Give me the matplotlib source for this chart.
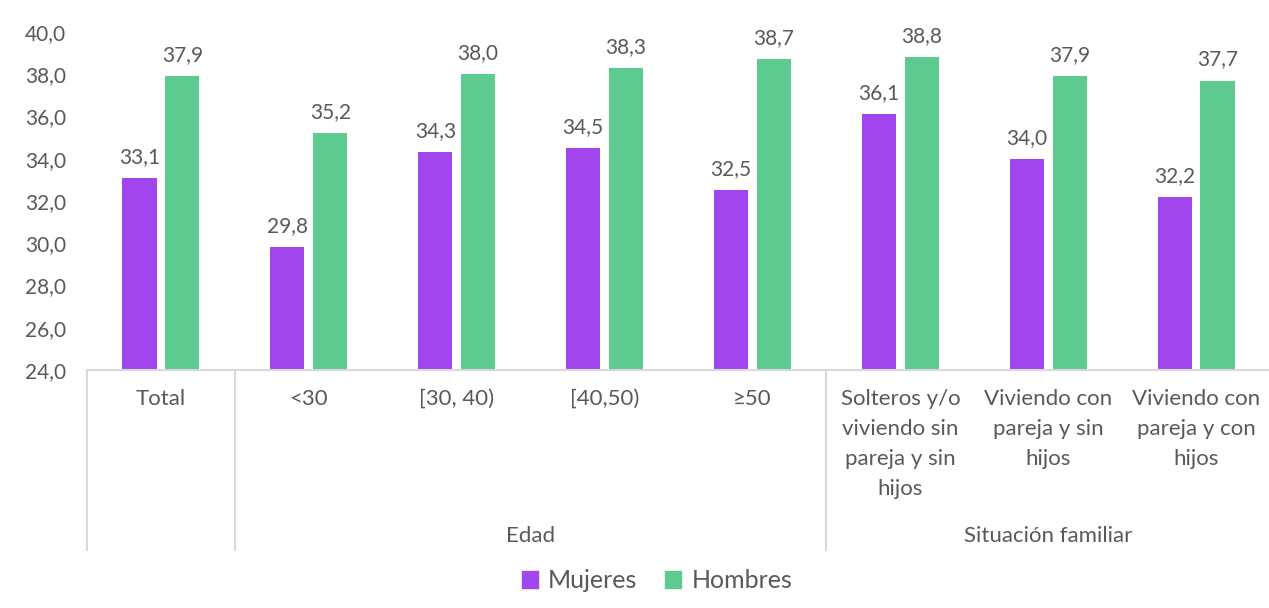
import matplotlib.pyplot as plt
import matplotlib.transforms as mtransforms
from matplotlib.patches import Patch

# --- data ---
categories = ['Total', '<30', '[30, 40)', '[40,50)', '≥50',
              'Solteros y/o\nviviendo sin\npareja y sin\nhijos',
              'Viviendo con\npareja y sin\nhijos',
              'Viviendo con\npareja y con\nhijos']
mujeres = [33.1, 29.8, 34.3, 34.5, 32.5, 36.1, 34.0, 32.2]
hombres = [37.9, 35.2, 38.0, 38.3, 38.7, 38.8, 37.9, 37.7]
groups = [('Edad', 1, 4), ('Situación familiar', 5, 7)]
separators = [-0.5, 0.5, 4.5]
y_ticks = [24, 26, 28, 30, 32, 34, 36, 38, 40]

purple = '#A145EC'
green = '#5DCA8F'
txt = '#595959'
line_c = '#D9D9D9'

plt.rcParams['font.family'] = ['Lato', 'DejaVu Sans']

W, H = 1269, 608
fig = plt.figure(figsize=(W / 100, H / 100), dpi=100)
ax = fig.add_axes([87 / W, (H - 370) / H, (1270 - 87) / W, (370 - 32) / H])

x = list(range(len(categories)))
bw = 0.23
off = 0.145
ax.bar([i - off for i in x], mujeres, width=bw, color=purple, bottom=0)
ax.bar([i + off for i in x], hombres, width=bw, color=green, bottom=0)

for i in x:
    ax.annotate(f'{mujeres[i]:.1f}'.replace('.', ','), (i - off, mujeres[i]),
                xytext=(0, 8), textcoords='offset points', ha='center', va='bottom',
                fontsize=15, color=txt)
    ax.annotate(f'{hombres[i]:.1f}'.replace('.', ','), (i + off, hombres[i]),
                xytext=(0, 8), textcoords='offset points', ha='center', va='bottom',
                fontsize=15, color=txt)

ax.set_xlim(-0.5, len(categories) - 0.5)
ax.set_ylim(24, 40)
ax.set_yticks(y_ticks)
ax.set_yticklabels([f'{v:.1f}'.replace('.', ',') for v in y_ticks], fontsize=15, color=txt)
ax.tick_params(axis='y', length=0, pad=15)
ax.set_xticks([])
for s in ['top', 'right', 'left']:
    ax.spines[s].set_visible(False)
ax.spines['bottom'].set_color(line_c)
ax.spines['bottom'].set_linewidth(1.5)

# category axis: labels, separators, group labels
trans = mtransforms.blended_transform_factory(ax.transData, ax.transAxes)
px = 1 / (370 - 32)
for i, c in enumerate(categories):
    ax.text(i, -19 * px, c, transform=trans, ha='center', va='top',
            fontsize=16, color=txt, linespacing=1.62)
for s in separators:
    ax.plot([s, s], [0, -180 * px], transform=trans, color=line_c, lw=1.5, clip_on=False)
for name, a, b in groups:
    ax.text((a + b) / 2, -166 * px, name, transform=trans, ha='center', va='center',
            fontsize=16, color=txt)

handles = [Patch(color=purple, label='Mujeres'), Patch(color=green, label='Hombres')]
fig.legend(handles=handles, loc='center', bbox_to_anchor=(657 / W, (H - 581) / H),
           ncol=2, frameon=False, fontsize=18, labelcolor=txt,
           handlelength=0.65, handleheight=0.65, handletextpad=0.4, columnspacing=1.1)

fig.savefig('out.png', dpi=100)
